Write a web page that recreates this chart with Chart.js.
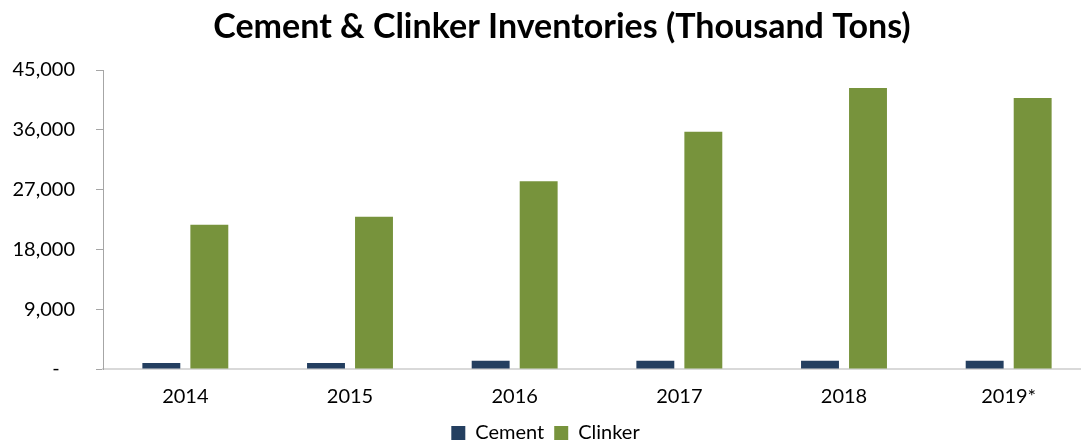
<!DOCTYPE html>
<html>
<head>
<meta charset="utf-8">
<script src="https://cdn.jsdelivr.net/npm/chart.js@4"></script>
<style>
  html, body { margin: 0; padding: 0; background: #fff; overflow: hidden; }
  #wrap { width: 1092px; height: 443px; position: relative; }
</style>
</head>
<body>
<div id="wrap"><canvas id="invChart"></canvas></div>
<script>
const years = ['2014', '2015', '2016', '2017', '2018', '2019*'];
const cement = [900, 900, 1250, 1250, 1250, 1250];
const clinker = [21700, 22900, 28250, 35700, 42300, 40800];
const yTicks = [0, 9000, 18000, 27000, 36000, 45000];
const chartTitle = 'Cement & Clinker Inventories (Thousand Tons)';

const FONT = 'Lato, "Open Sans", sans-serif';

// title drawn by hand so it can sit off-centre like the original
const titlePlugin = {
    id: 'offsetTitle',
    afterDraw(chart) {
        const ctx = chart.ctx;
        ctx.save();
        ctx.font = 'bold 34px ' + FONT;
        ctx.fillStyle = '#000';
        ctx.textAlign = 'center';
        ctx.textBaseline = 'alphabetic';
        ctx.fillText(chartTitle, 562, 38);
        ctx.restore();
    }
};

const ctx = document.getElementById('invChart').getContext('2d');
const invChart = new Chart(ctx, {
    type: 'bar',
    data: {
        labels: years,
        datasets: [{
            label: 'Cement',
            data: cement,
            backgroundColor: '#243f60',
            borderWidth: 0,
            categoryPercentage: 0.583,
            barPercentage: 0.79
        }, {
            label: 'Clinker',
            data: clinker,
            backgroundColor: '#77933c',
            borderWidth: 0,
            categoryPercentage: 0.583,
            barPercentage: 0.79
        }]
    },
    plugins: [titlePlugin],
    options: {
        responsive: true,
        maintainAspectRatio: false,
        animation: false,
        layout: {
            padding: { top: 70, right: 1, left: 0, bottom: -10 }
        },
        scales: {
            x: {
                grid: { display: false },
                border: { color: '#d9d9d9', width: 2 },
                ticks: {
                    color: '#000',
                    font: { family: FONT, size: 20 },
                    padding: 8
                },
                afterFit: function(scale) { scale.height = 44; }
            },
            y: {
                min: 0,
                max: 45000,
                afterBuildTicks: function(scale) {
                    scale.ticks = yTicks.map(v => ({ value: v }));
                },
                grid: {
                    drawOnChartArea: false,
                    drawTicks: true,
                    tickLength: 7,
                    color: '#a6a6a6'
                },
                border: { color: '#a6a6a6', width: 1 },
                ticks: {
                    color: '#000',
                    font: { family: FONT, size: 20 },
                    padding: 21,
                    callback: function(value) {
                        return value === 0 ? '-   ' : value.toLocaleString('en-US');
                    }
                },
                afterFit: function(scale) { scale.width = 103; }
            }
        },
        plugins: {
            title: { display: false },
            tooltip: { enabled: false },
            legend: {
                position: 'bottom',
                labels: {
                    color: '#000',
                    font: { family: FONT, size: 20 },
                    boxWidth: 14,
                    boxHeight: 14,
                    padding: 10
                }
            }
        }
    }
});
</script>
</body>
</html>
